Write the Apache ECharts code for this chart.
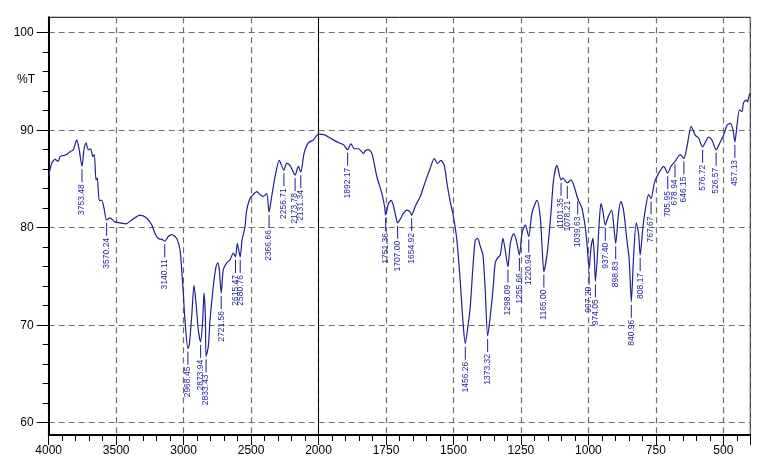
<!DOCTYPE html>
<html>
<head>
<meta charset="utf-8">
<script src="https://cdn.jsdelivr.net/npm/echarts@6/dist/echarts.min.js"></script>
<style>
  html, body { margin: 0; padding: 0; background: #fff; }
  #chart { width: 770px; height: 468px; }
</style>
</head>
<body>
<div id="chart"></div>
<script>
// spectrum (wavenumber cm-1 / %T)
const wavenumbers = [
  4000, 3977.8, 3953.3, 3928.8, 3916.3, 3891.8, 3866.6, 3842.1, 3817.7, 3792.5,
  3775.4, 3753.48, 3738.4, 3723.5, 3706.5, 3688.7, 3673.9, 3662.0, 3649.4, 3639.8,
  3624.9, 3607.2, 3590.1, 3570.24, 3545.6, 3508.6, 3471.5, 3426.8, 3384.8, 3322.6,
  3273.6, 3236.6, 3212.1, 3187.7, 3160, 3140.11, 3113.6, 3088.4, 3051.3, 3026.8,
  3014.2, 3002.4, 2989.8, 2968.45, 2957.9, 2940.1, 2923.0, 2908.2, 2891.2, 2873.94,
  2858.6, 2848.9, 2839.3, 2833.43, 2817.1, 2804.5, 2780.0, 2760.0, 2747.4, 2735.5,
  2721.56, 2705.9, 2680.7, 2656.2, 2631.8, 2615.47, 2602.1, 2580.76, 2567.3, 2545.1,
  2532.5, 2508.0, 2483.5, 2458.3, 2433.9, 2409.4, 2384.2, 2366.66, 2347.2, 2322.7,
  2290.8, 2256.71, 2236.0, 2211.6, 2173.78, 2150.0, 2131.34, 2107.7, 2075.9, 2038.8,
  2000, 1975.2, 1956.6, 1931.8, 1907.4, 1892.17, 1879.9, 1867.7, 1851.8, 1833.2,
  1826.9, 1814.7, 1802.1, 1783.6, 1765.0, 1755.4, 1751.36, 1740.6, 1730.6, 1722.1,
  1713.2, 1707.00, 1694.6, 1685.0, 1672.4, 1660.2, 1654.92, 1641.6, 1623.1, 1604.6,
  1586.1, 1571.2, 1559.0, 1546.4, 1534.2, 1524.4, 1512.1, 1499.9, 1487.3, 1475.1,
  1465.1, 1456.26, 1446.3, 1437.8, 1427.8, 1419.3, 1410.8, 1400.7, 1390.8, 1382.3,
  1373.32, 1363.7, 1353.7, 1345.2, 1336.7, 1326.7, 1316.7, 1308.2, 1298.09, 1289.3,
  1277.1, 1267.1, 1255.66, 1246.2, 1234.0, 1220.94, 1209.2, 1190.6, 1178.4, 1171.0,
  1165.00, 1151.3, 1138.8, 1129.1, 1116.5, 1101.35, 1094.3, 1078.21, 1064.6, 1052.4,
  1039.63, 1024.1, 1011.9, 1005.3, 997.20, 990.5, 983.1, 978.3, 974.05, 966.9,
  959.4, 953.1, 946.9, 937.40, 926.8, 914.1, 905.6, 898.83, 888.3, 879.3,
  869.7, 857.1, 848.6, 840.96, 832.7, 822.6, 814.1, 808.17, 797.8, 789.3,
  777.0, 767.67, 755.5, 739.5, 721.0, 705.95, 694.1, 678.94, 659.6, 646.15,
  634.8, 618.9, 604.1, 591.9, 576.72, 554.7, 542.1, 526.57, 511.1, 498.8,
  486.3, 474.0, 464.0, 457.13, 449.7, 440.1, 431.2, 425.2, 416.3, 410.4, 404.1, 400
]
const transmittance = [
  85.3, 86.6, 87.0, 86.8, 87.3, 87.4, 87.5, 87.8, 88.0, 89.0,
  88.1, 86.3, 88.0, 88.7, 88.0, 88.1, 87.3, 87.5, 84.9, 85.1,
  82.8, 82.8, 82.0, 80.8, 81.0, 80.6, 80.5, 80.4, 80.8, 81.3,
  81.0, 80.3, 79.4, 78.9, 78.8, 78.6, 79.1, 79.3, 78.9, 77.7,
  75.7, 73.3, 70.5, 67.6, 68.0, 70.9, 74.1, 72.3, 69.5, 68.3,
  70.5, 73.3, 71.2, 66.8, 67.8, 70.5, 74.0, 76.0, 76.4, 75.7,
  73.3, 75.7, 76.4, 76.7, 77.4, 77.0, 78.4, 77.0, 78.7, 80.1,
  81.8, 83.0, 83.4, 83.7, 83.4, 83.2, 83.5, 81.6, 83.2, 85.2,
  86.9, 85.9, 86.6, 86.4, 85.4, 86.3, 85.7, 87.6, 88.7, 89.0,
  89.6, 89.5, 89.2, 88.8, 88.5, 88.0, 88.6, 88.1, 88.1, 87.6,
  87.9, 88.0, 87.6, 85.2, 83.5, 82.2, 81.3, 82.5, 82.8, 82.2,
  81.1, 80.5, 81.0, 81.5, 81.8, 81.6, 81.3, 82.2, 83.2, 84.7,
  86.1, 87.1, 86.6, 86.9, 86.4, 84.6, 82.7, 81.1, 78.7, 74.6,
  70.5, 68.1, 69.9, 71.9, 76.0, 78.7, 78.9, 78.1, 77.2, 73.6,
  68.9, 70.9, 73.6, 76.4, 76.9, 77.2, 78.9, 77.7, 76.0, 78.4,
  79.4, 78.7, 77.2, 79.4, 80.3, 79.1, 81.5, 82.8, 81.1, 77.7,
  75.5, 77.7, 81.5, 84.9, 86.4, 84.9, 85.1, 84.6, 84.9, 84.2,
  83.0, 82.0, 80.1, 78.4, 75.8, 77.9, 78.9, 77.2, 74.5, 77.0,
  80.8, 82.5, 81.8, 80.3, 81.1, 81.8, 80.1, 78.4, 81.5, 82.7,
  81.8, 78.7, 76.7, 72.4, 77.0, 80.5, 79.4, 77.2, 80.1, 81.8,
  83.4, 83.0, 84.6, 85.6, 86.3, 85.6, 86.3, 86.8, 87.5, 87.1,
  88.3, 90.4, 89.5, 89.2, 88.3, 89.3, 89.0, 88.0, 88.8, 89.5,
  90.5, 90.7, 90.0, 88.8, 90.4, 92.1, 91.9, 92.8, 93.1, 92.9, 93.6, 93.8
]
// labelled peaks
const peakLabels = [
  3753.48, 3570.24, 3140.11, 2968.45, 2873.94, 2833.43, 2721.56, 2615.47, 2580.76,
  2366.66, 2256.71, 2173.78, 2131.34, 1892.17, 1751.36, 1707.00, 1654.92, 1456.26,
  1373.32, 1298.09, 1255.66, 1220.94, 1165.00, 1101.35, 1078.21, 1039.63, 997.20,
  974.05, 937.40, 898.83, 840.96, 808.17, 767.67, 705.95, 678.94, 646.15, 576.72,
  526.57, 457.13
]
const xTicks = [4000, 3500, 3000, 2500, 2000, 1750, 1500, 1250, 1000, 750, 500]

const blue = '#1f1f96'
const font = 'Liberation Sans'

// 4000-2000 drawn at 1x, below 2000 at 2x (scale change like the instrument plot)
const toU = wn => wn >= 2000 ? 4000 - wn : 2000 + (2000 - wn) * 2
const fromU = u => u <= 2000 ? 4000 - u : 2000 - (u - 2000) / 2

const spectrum = wavenumbers.map((w, i) => [toU(w), transmittance[i]])
const peaks = peakLabels.map(w => {
  const idx = wavenumbers.findIndex(v => Math.abs(v - w) < 1e-6)
  return [toU(w), transmittance[idx]]
})

const chart = echarts.init(document.getElementById('chart'))
const dashed = { color: '#6f6f6f', width: 1.2, type: [6, 4] }

const option = {
  animation: false,
  backgroundColor: '#fff',
  grid: [
    { left: 48.7, right: 19.7, top: 17.3, bottom: 33, show: true, borderColor: '#000', borderWidth: 1 },
    { left: 48.7, right: 19.7, top: 32.7, bottom: 45.3 }
  ],
  graphic: [
    { type: 'text', left: 17, top: 74, style: { text: '%T', fontSize: 12, fontFamily: font, fill: '#000' } }
  ],
  xAxis: [
    {
      gridIndex: 0,
      type: 'value',
      min: 0,
      max: 5200,
      interval: 500,
      axisLine: { onZero: false, lineStyle: { color: '#000', width: 2 } },
      axisTick: { length: 10, lineStyle: { color: '#000' } },
      axisLabel: {
        color: '#000',
        fontSize: 12,
        fontFamily: font,
        margin: 10,
        formatter: v => {
          const wn = Math.round(fromU(v))
          return xTicks.includes(wn) ? String(wn) : ''
        }
      },
      splitLine: { show: true, lineStyle: dashed }
    },
    {
      gridIndex: 0,
      type: 'value',
      position: 'bottom',
      min: 0,
      max: 5200,
      interval: 100,
      axisLine: { show: false, onZero: false },
      axisTick: { length: 6, lineStyle: { color: '#000' } },
      axisLabel: { show: false },
      splitLine: { show: false }
    },
    { gridIndex: 1, type: 'value', min: 0, max: 5200, show: false }
  ],
  yAxis: [
    {
      gridIndex: 0,
      type: 'value',
      min: 58.74,
      max: 101.58,
      axisLine: { show: true, lineStyle: { color: '#000', width: 2 } },
      axisTick: { show: false },
      axisLabel: { show: false },
      splitLine: { show: false }
    },
    {
      gridIndex: 1,
      type: 'value',
      min: 60,
      max: 100,
      interval: 10,
      axisLine: { show: false },
      axisTick: { show: true, length: 12, lineStyle: { color: '#000' } },
      minorTick: { show: true, splitNumber: 5, length: 6, lineStyle: { color: '#000' } },
      axisLabel: { color: '#000', fontSize: 12, fontFamily: font, margin: 15 },
      splitLine: { show: true, lineStyle: dashed }
    }
  ],
  series: [
    {
      type: 'line',
      xAxisIndex: 0,
      yAxisIndex: 0,
      data: spectrum,
      symbol: 'none',
      smooth: 0.25,
      lineStyle: { color: blue, width: 1.2 },
      z: 3,
      markLine: {
        silent: true,
        symbol: 'none',
        label: { show: false },
        lineStyle: { color: '#000', width: 1, type: 'solid' },
        data: [{ xAxis: 2000 }]
      }
    },
    {
      type: 'custom',
      xAxisIndex: 0,
      yAxisIndex: 0,
      data: peaks,
      z: 4,
      renderItem (params, api) {
        const p = api.coord([api.value(0), api.value(1)])
        return {
          type: 'group',
          children: [
            {
              type: 'line',
              shape: { x1: p[0], y1: p[1] + 3, x2: p[0], y2: p[1] + 16 },
              style: { stroke: blue, lineWidth: 1 }
            },
            {
              type: 'text',
              x: p[0],
              y: p[1] + 18,
              rotation: Math.PI / 2,
              style: {
                text: peakLabels[params.dataIndex].toFixed(2),
                align: 'right',
                verticalAlign: 'middle',
                fontSize: 8.5,
                fontFamily: font,
                fill: blue
              }
            }
          ]
        }
      }
    }
  ]
}
chart.setOption(option)
</script>
</body>
</html>
